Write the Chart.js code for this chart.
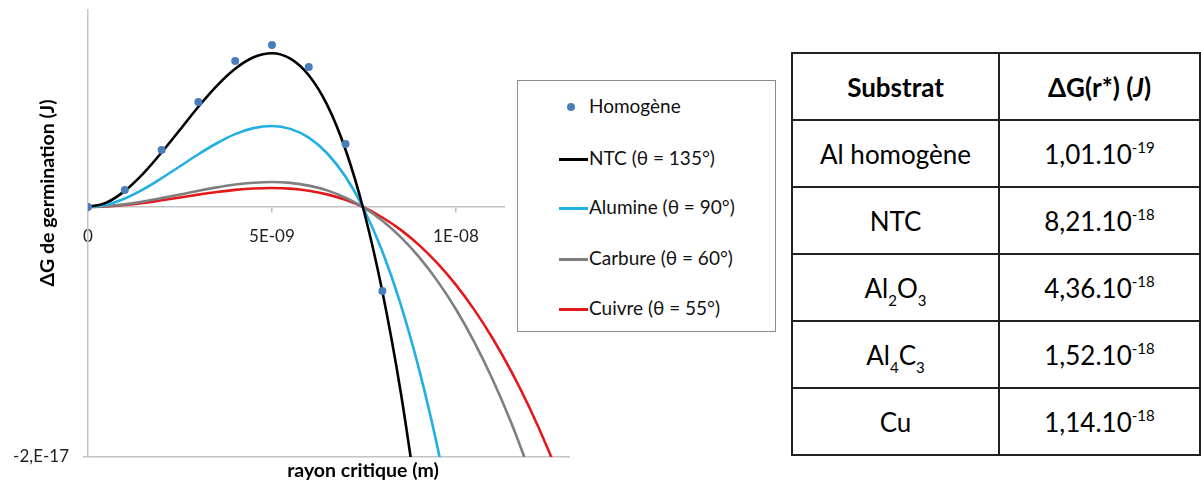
<!DOCTYPE html>
<html>
<head>
<meta charset="utf-8">
<script src="https://cdn.jsdelivr.net/npm/chart.js@4/dist/chart.umd.min.js"></script>
<style>
  html, body { margin: 0; padding: 0; background: #fff; }
  body { width: 1201px; height: 485px; position: relative; overflow: hidden; font-family: Lato, "Open Sans", sans-serif; color: #000; }
  #wrap { position: absolute; left: 0; top: 0; width: 600px; height: 485px; }
  #ytitle { position: absolute; left: -103px; top: 181px; width: 300px; text-align: center; font-weight: bold; font-size: 19.5px; transform: rotate(-90deg); transform-origin: 150px 12px; line-height: 24px; }
  #xtitle { position: absolute; left: 213px; top: 458px; width: 300px; text-align: center; font-weight: bold; font-size: 19.5px; line-height: 24px; }
  #legendMask { position: absolute; left: 505px; top: 80px; width: 12px; height: 254px; background: #fff; }
  #legend { position: absolute; left: 517px; top: 80px; width: 259px; height: 252px; border: 1px solid #8c8c8c; background: #fff; box-sizing: border-box; }
  .li { position: absolute; left: 0; height: 24px; line-height: 24px; font-size: 19px; white-space: nowrap; color: #111; }
  .li .mk { position: absolute; }
  .li .tx { position: absolute; left: 71px; top: 0; }
  #tbl { position: absolute; left: 791px; top: 52px; border-collapse: collapse; font-size: 26px; }
  #tbl td { border: 2px solid #222; text-align: center; vertical-align: middle; padding: 0; }
  #tbl td.c1 { width: 206px; }
  #tbl td.c2 { width: 200px; }
  #tbl tr { height: 67px; }
  #tbl sup { font-size: 15px; vertical-align: 11px; line-height: 0; }
  #tbl sub { font-size: 15px; vertical-align: -8px; line-height: 0; }
</style>
</head>
<body>
<div id="wrap"><canvas id="c" width="600" height="485"></canvas></div>
<div id="ytitle">ΔG de germination (J)</div>
<div id="xtitle">rayon critique (m)</div>
<div id="legendMask"></div>
<div id="legend"></div>
<table id="tbl">
  <tr><td class="c1" style="font-weight:bold">Substrat</td><td class="c2" style="font-weight:bold">ΔG(r*) (<i>J</i>)</td></tr>
  <tr><td class="c1">Al homogène</td><td class="c2">1,01.10<sup>-19</sup></td></tr>
  <tr><td class="c1">NTC</td><td class="c2">8,21.10<sup>-18</sup></td></tr>
  <tr><td class="c1">Al<sub>2</sub>O<sub>3</sub></td><td class="c2">4,36.10<sup>-18</sup></td></tr>
  <tr><td class="c1">Al<sub>4</sub>C<sub>3</sub></td><td class="c2">1,52.10<sup>-18</sup></td></tr>
  <tr><td class="c1">Cu</td><td class="c2">1,14.10<sup>-18</sup></td></tr>
</table>
<script>
// ---- data ----
const radius = [0, 0.5e-9, 1e-9, 1.5e-9, 2e-9, 2.5e-9, 3e-9, 3.5e-9, 4e-9, 4.5e-9, 5e-9, 5.5e-9, 6e-9, 6.5e-9, 7e-9, 7.5e-9, 8e-9, 8.5e-9, 9e-9, 9.5e-9, 10e-9, 10.5e-9, 11e-9, 11.5e-9, 12e-9, 12.5e-9, 13e-9];
const homogeneRadius = [0, 1e-9, 2e-9, 3e-9, 4e-9, 5e-9, 6e-9, 7e-9, 8e-9];
const homogene = [0, 1.36e-18, 4.56e-18, 8.40e-18, 11.68e-18, 12.96e-18, 11.20e-18, 5.04e-18, -6.72e-18];
const ntc = [0, 0.35e-18, 1.29e-18, 2.67e-18, 4.36e-18, 6.18e-18, 8.02e-18, 9.69e-18, 11.06e-18, 11.98e-18, 12.30e-18, 11.87e-18, 10.54e-18, 8.17e-18, 4.58e-18, -0.34e-18, -6.76e-18, -14.82e-18, -24.69e-18];
const alumine = [0, 0.18e-18, 0.68e-18, 1.41e-18, 2.30e-18, 3.26e-18, 4.22e-18, 5.10e-18, 5.83e-18, 6.31e-18, 6.48e-18, 6.25e-18, 5.55e-18, 4.30e-18, 2.42e-18, -0.18e-18, -3.56e-18, -7.81e-18, -13.01e-18, -19.23e-18, -26.55e-18];
const carbure = [0, 0.06e-18, 0.21e-18, 0.43e-18, 0.71e-18, 1.00e-18, 1.30e-18, 1.57e-18, 1.80e-18, 1.94e-18, 2.00e-18, 1.93e-18, 1.71e-18, 1.33e-18, 0.74e-18, -0.05e-18, -1.10e-18, -2.41e-18, -4.01e-18, -5.93e-18, -8.18e-18, -10.81e-18, -13.82e-18, -17.24e-18, -21.10e-18];
const cuivre = [0, 0.04e-18, 0.16e-18, 0.33e-18, 0.54e-18, 0.76e-18, 0.99e-18, 1.20e-18, 1.37e-18, 1.48e-18, 1.52e-18, 1.47e-18, 1.30e-18, 1.01e-18, 0.57e-18, -0.04e-18, -0.84e-18, -1.83e-18, -3.05e-18, -4.51e-18, -6.23e-18, -8.23e-18, -10.52e-18, -13.13e-18, -16.06e-18, -19.36e-18, -23.02e-18];
const seriesNames = ["Homogène", "NTC (θ = 135°)", "Alumine (θ = 90°)", "Carbure (θ = 60°)", "Cuivre (θ = 55°)"];
const xTicks = [0, 5e-9, 1e-8];
const xTickLabels = ["0", "5E-09", "1E-08"];
const yTicks = [-2e-17];
const yTickLabels = ["-2,E-17"];

// ---- chart ----
const colors = ["#4a7ebb", "#000000", "#22b0e4", "#7f7f7f", "#e3191c"];
const pts = (xs, ys) => ys.map((y, i) => ({ x: xs[i], y: y }));
const lineDs = (label, ys, color) => ({
  label, data: pts(radius, ys), borderColor: color, backgroundColor: color,
  borderWidth: 2.6, pointRadius: 0, cubicInterpolationMode: 'monotone', fill: false
});
const datasets = [
  { label: seriesNames[0], data: pts(homogeneRadius, homogene), showLine: false,
    pointRadius: 4, pointBackgroundColor: colors[0], pointBorderColor: colors[0], pointBorderWidth: 0, backgroundColor: colors[0], borderColor: colors[0] },
  lineDs(seriesNames[1], ntc, colors[1]),
  lineDs(seriesNames[2], alumine, colors[2]),
  lineDs(seriesNames[3], carbure, colors[3]),
  lineDs(seriesNames[4], cuivre, colors[4])
];
const font = { family: 'Lato, "Open Sans", sans-serif', size: 17 };
new Chart(document.getElementById('c'), {
  type: 'line',
  data: { datasets },
  options: {
    responsive: false, animation: false,
    layout: { autoPadding: false, padding: { left: 0, top: 10, right: 30, bottom: 28 } },
    plugins: { legend: { display: false }, tooltip: { enabled: false } },
    scales: {
      x: {
        type: 'linear', position: { y: 0 }, min: 0, max: 13.1e-9,
        afterBuildTicks: s => { s.ticks = xTicks.map(v => ({ value: v })); },
        afterFit: s => { s.paddingTop = 0; s.paddingBottom = 0; },
        ticks: { callback: (v, i) => xTickLabels[i], font, color: '#222', padding: 14, maxRotation: 0, autoSkip: false },
        grid: { drawOnChartArea: false, drawTicks: true, tickLength: 5, color: '#bdbdbd', lineWidth: 1.5 },
        border: { color: '#c4c4c4', width: 1.5 }
      },
      y: {
        type: 'linear', min: -2e-17, max: 1.576e-17,
        afterBuildTicks: s => { s.ticks = yTicks.map(v => ({ value: v })); },
        afterFit: s => { s.width = 88; s.paddingTop = 0; s.paddingBottom = 0; },
        ticks: { callback: (v, i) => yTickLabels[i], font, color: '#222', padding: 14 },
        grid: { color: '#c4c4c4', lineWidth: 1.5, tickLength: 5 },
        border: { color: '#c4c4c4', width: 1.5 }
      }
    }
  }
});

// ---- legend built from series ----
const legend = document.getElementById('legend');
const rowY = [13, 65, 114, 165, 215];
seriesNames.forEach((name, i) => {
  const d = document.createElement('div');
  d.className = 'li';
  d.style.top = rowY[i] + 'px';
  const mk = document.createElement('div');
  mk.className = 'mk';
  if (i === 0) {
    Object.assign(mk.style, { left: '49px', top: '9px', width: '8px', height: '8px', borderRadius: '50%', background: colors[0] });
  } else {
    Object.assign(mk.style, { left: '41px', top: '12px', width: '29px', height: '3px', background: colors[i] });
  }
  const tx = document.createElement('div');
  tx.className = 'tx';
  tx.textContent = name;
  d.appendChild(mk); d.appendChild(tx);
  legend.appendChild(d);
});
</script>
</body>
</html>
